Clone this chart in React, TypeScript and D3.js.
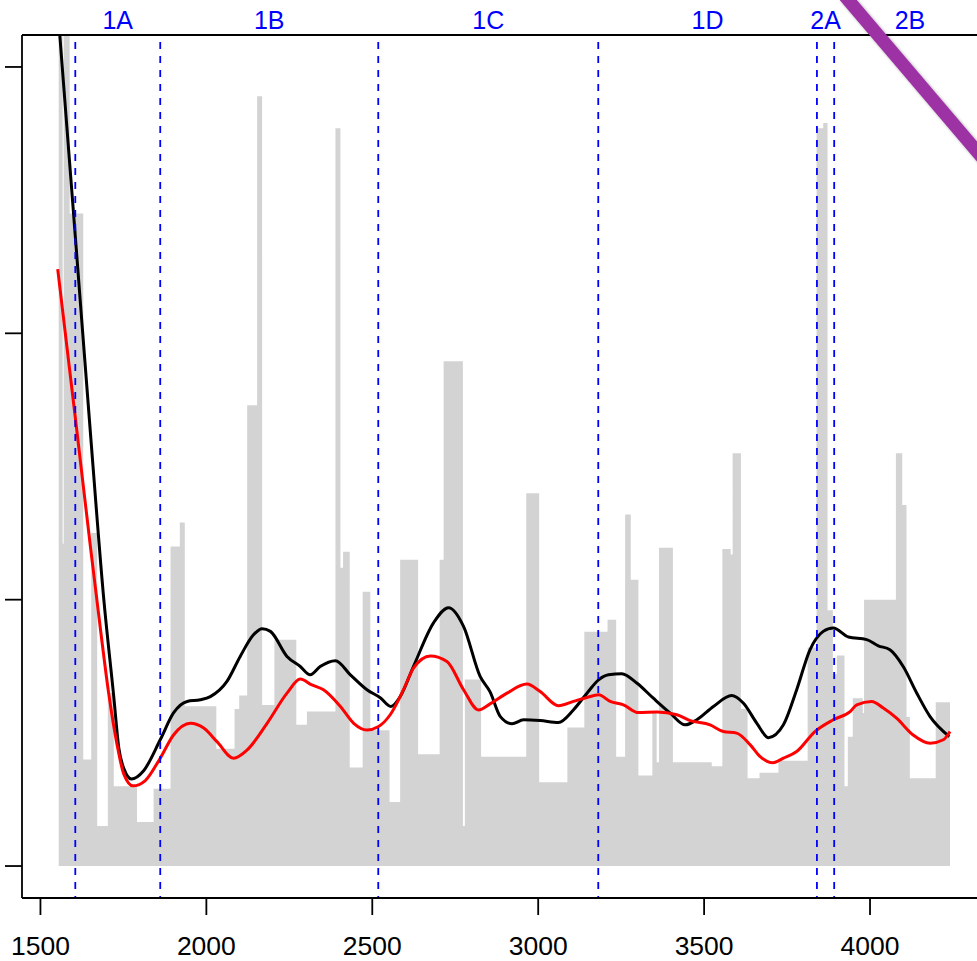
import React from 'react';
import * as d3 from 'd3';

const xTicks = [1500, 2000, 2500, 3000, 3500, 4000];
const yTicks = [0, 1, 2, 3];

const barEdges = [1555, 1567, 1570, 1588, 1629, 1653, 1671, 1703, 1721, 1791, 1841, 1892, 1920, 1935, 2030, 2085, 2099, 2123, 2153, 2168, 2205, 2271, 2303, 2389, 2404, 2412, 2432, 2471, 2494, 2552, 2584, 2638, 2703, 2715, 2773, 2779, 2828, 2964, 3003, 3088, 3139, 3209, 3235, 3262, 3279, 3302, 3344, 3357, 3364, 3406, 3523, 3555, 3580, 3586, 3611, 3631, 3667, 3724, 3812, 3839, 3859, 3872, 3888, 3900, 3923, 3933, 3948, 3978, 3982, 4078, 4097, 4110, 4120, 4198, 4241];
const barHeights = [3.3, 1.21, 3.3, 2.45, 0.40, 1.25, 0.15, 0.65, 0.30, 0.165, 0.29, 1.20, 1.29, 0.60, 0.44, 0.59, 0.64, 1.73, 2.89, 0.605, 0.85, 0.53, 0.58, 2.77, 1.12, 1.18, 0.37, 1.03, 0.51, 0.24, 1.15, 0.42, 1.15, 1.895, 0.15, 0.70, 0.41, 1.40, 0.315, 0.52, 0.88, 0.925, 0.41, 1.32, 1.075, 0.34, 0.58, 0.39, 1.195, 0.39, 0.375, 1.19, 1.17, 1.55, 0.59, 0.33, 0.35, 0.395, 0.82, 2.77, 2.79, 0.96, 0.72, 0.79, 0.30, 0.485, 0.63, 0.575, 1.00, 1.55, 1.355, 0.56, 0.33, 0.615];

const blackX = [1552, 1558, 1608, 1651, 1691, 1721, 1736, 1753, 1774, 1811, 1861, 1901, 1942, 1982, 2012, 2062, 2102, 2142, 2168, 2193, 2243, 2283, 2313, 2343, 2389, 2434, 2484, 2524, 2556, 2584, 2624, 2685, 2730, 2775, 2825, 2855, 2886, 2921, 2956, 3006, 3061, 3106, 3147, 3182, 3212, 3252, 3297, 3347, 3398, 3443, 3478, 3528, 3583, 3618, 3659, 3694, 3739, 3779, 3819, 3859, 3889, 3935, 3990, 4025, 4060, 4100, 4141, 4181, 4239];
const blackY = [3.22, 3.124, 2.316, 1.62, 1.0, 0.635, 0.444, 0.361, 0.327, 0.358, 0.474, 0.575, 0.618, 0.624, 0.636, 0.693, 0.787, 0.868, 0.891, 0.881, 0.787, 0.749, 0.718, 0.749, 0.771, 0.718, 0.662, 0.632, 0.599, 0.636, 0.749, 0.914, 0.970, 0.900, 0.712, 0.654, 0.561, 0.534, 0.549, 0.546, 0.539, 0.586, 0.649, 0.699, 0.718, 0.722, 0.687, 0.630, 0.574, 0.530, 0.549, 0.599, 0.640, 0.612, 0.536, 0.482, 0.530, 0.662, 0.812, 0.881, 0.894, 0.860, 0.850, 0.827, 0.812, 0.749, 0.649, 0.561, 0.486];

const redX = [1552, 1605, 1651, 1681, 1705, 1731, 1751, 1779, 1816, 1861, 1901, 1952, 1992, 2032, 2082, 2123, 2183, 2243, 2283, 2318, 2353, 2404, 2444, 2484, 2519, 2554, 2594, 2624, 2675, 2725, 2775, 2820, 2855, 2906, 2966, 3006, 3061, 3106, 3147, 3182, 3217, 3257, 3302, 3358, 3418, 3458, 3518, 3558, 3598, 3639, 3669, 3707, 3739, 3779, 3834, 3889, 3940, 3960, 4005, 4040, 4080, 4130, 4181, 4221, 4241];
const redY = [2.241, 1.684, 1.195, 0.887, 0.654, 0.455, 0.346, 0.301, 0.321, 0.405, 0.492, 0.536, 0.518, 0.467, 0.405, 0.436, 0.536, 0.649, 0.702, 0.680, 0.662, 0.599, 0.536, 0.511, 0.524, 0.568, 0.662, 0.743, 0.789, 0.768, 0.662, 0.586, 0.609, 0.649, 0.683, 0.655, 0.602, 0.618, 0.633, 0.643, 0.618, 0.605, 0.576, 0.578, 0.568, 0.546, 0.530, 0.505, 0.499, 0.455, 0.411, 0.388, 0.405, 0.430, 0.505, 0.549, 0.580, 0.605, 0.618, 0.593, 0.555, 0.492, 0.461, 0.474, 0.505];

const phaseBounds = [1605, 1861, 2518, 3181, 3840, 3892];
const phaseLabels = ['1A', '1B', '1C', '1D', '2A', '2B'];

export default function App() {
  const W = 977, H = 961;
  const left = 22, right = 985.7, top = 35, bottom = 898;
  const xDomain: [number, number] = [1444.4, 4348.6];
  const x = d3.scaleLinear().domain(xDomain).range([left, right]);
  const y = d3.scaleLinear().domain([-0.12, 3.12]).range([bottom, top]);

  const n = barHeights.length;
  const stepPts: [number, number][] = barHeights.map((h, i) => [barEdges[i], h] as [number, number]);
  stepPts.push([barEdges[n], barHeights[n - 1]]);
  const area = d3.area<[number, number]>()
    .x(d => x(d[0]))
    .y0(y(0))
    .y1(d => y(d[1]))
    .curve(d3.curveStepAfter);

  const line = d3.line<[number, number]>()
    .x(d => x(d[0]))
    .y(d => y(d[1]))
    .curve(d3.curveMonotoneX);
  const blackPts = blackX.map((v, i) => [v, blackY[i]] as [number, number]);
  const redPts = redX.map((v, i) => [v, redY[i]] as [number, number]);

  const bounds = [...phaseBounds, xDomain[1]];
  const labelPos = phaseLabels.map((lab, i) => ({ lab, cx: (x(bounds[i]) + x(bounds[i + 1])) / 2 }));

  const font = '"Liberation Sans", Arial, Helvetica, sans-serif';

  return (
    <svg width={W} height={H} style={{ position: 'absolute', left: 0, top: 0, background: '#fff' }}>
      <defs>
        <clipPath id="plotClip">
          <rect x={left} y={top} width={right - left} height={bottom - top} />
        </clipPath>
        <filter id="shadow" x="-20%" y="-20%" width="140%" height="140%">
          <feDropShadow dx="2" dy="2" stdDeviation="1.5" floodColor="#000" floodOpacity="0.35" />
        </filter>
      </defs>
      <rect x={0} y={0} width={W} height={H} fill="#fff" />
      <g clipPath="url(#plotClip)">
        <path d={area(stepPts) || ''} fill="#d3d3d3" stroke="none" />
        <path d={line(blackPts) || ''} fill="none" stroke="#000" strokeWidth={3} strokeLinejoin="round" />
        <path d={line(redPts) || ''} fill="none" stroke="#ff0000" strokeWidth={3} strokeLinejoin="round" />
        {phaseBounds.map((b, i) => (
          <line key={i} x1={x(b)} x2={x(b)} y1={top} y2={bottom} stroke="#0000ff" strokeWidth={1.8}
            strokeDasharray="7 7" strokeDashoffset={7} />
        ))}
      </g>
      {/* box */}
      <line x1={left} x2={left} y1={top} y2={bottom} stroke="#000" strokeWidth={1.8} />
      <line x1={left} x2={W + 5} y1={top} y2={top} stroke="#000" strokeWidth={1.8} />
      <line x1={left} x2={W + 5} y1={bottom} y2={bottom} stroke="#000" strokeWidth={1.8} />
      {/* y ticks */}
      {yTicks.map(t => (
        <line key={t} x1={left - 17} x2={left} y1={y(t)} y2={y(t)} stroke="#000" strokeWidth={1.8} />
      ))}
      {/* x ticks */}
      {xTicks.map(t => (
        <g key={t}>
          <line x1={x(t)} x2={x(t)} y1={bottom} y2={bottom + 17} stroke="#000" strokeWidth={1.8} />
          <text x={x(t)} y={955} textAnchor="middle" fontFamily={font} fontSize={26.5} fill="#000">{t}</text>
        </g>
      ))}
      {/* phase labels */}
      {labelPos.map(p => (
        <text key={p.lab} x={p.cx} y={29} textAnchor="middle" fontFamily={font} fontSize={25} fill="#0000ff">{p.lab}</text>
      ))}
      {/* purple diagonal */}
      <line x1={844} y1={-5} x2={991} y2={168} stroke="#9c31a3" strokeWidth={13} filter="url(#shadow)" />
    </svg>
  );
}
